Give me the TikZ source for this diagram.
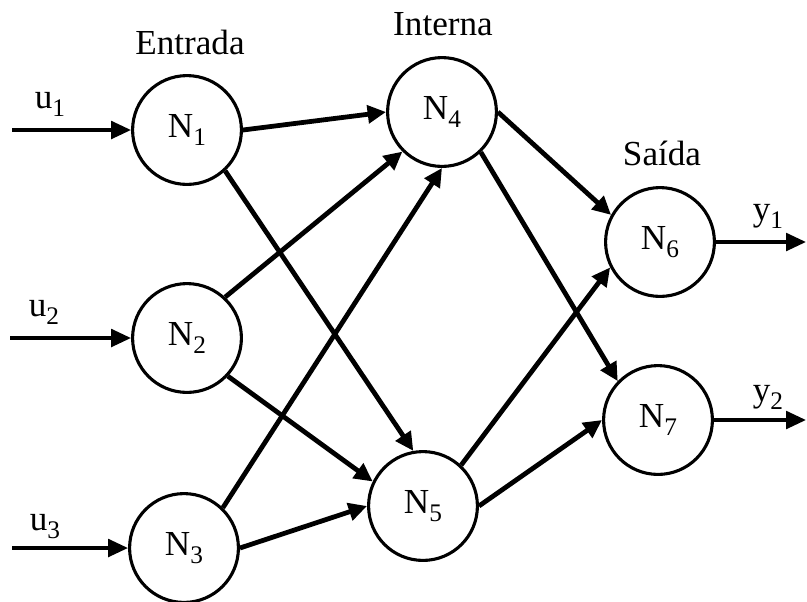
\documentclass[tikz,border=0pt]{standalone}
\usepackage{fontspec}
\setmainfont{Liberation Serif}
\usepackage{tikz}
\usetikzlibrary{arrows.meta}
\newcommand{\idx}[2]{#1\raisebox{-0.5ex}{\fontsize{18}{18}\selectfont #2}}
\tikzset{
  neuron/.style={circle,draw,line width=2.2pt,minimum size=2.72cm,inner sep=0pt,font=\fontsize{25}{28}\selectfont},
  lnk/.style={-{Triangle[length=4.6mm,width=4.4mm]},line width=3.4pt},
  io/.style={-{Triangle[length=5mm,width=4.4mm]},line width=2.6pt},
  ttl/.style={font=\fontsize{25}{28}\selectfont,inner sep=0pt}
}

\begin{document}
\begin{tikzpicture}[x=0.025cm,y=-0.025cm]
\useasboundingbox (0,0) rectangle (807,601);
% layers
\node[ttl] (tin) at (190,42) {Entrada};
\node[ttl] (tint) at (443,24) {Interna};
\node[ttl] (tout) at (662,153) {Saída};
\node[neuron] (n1) at (187,130) {\idx{N}{1}};
\node[neuron] (n2) at (187,338) {\idx{N}{2}};
\node[neuron] (n3) at (184,548) {\idx{N}{3}};
\node[neuron] (n4) at (442,112) {\idx{N}{4}};
\node[neuron] (n5) at (423,506) {\idx{N}{5}};
\node[neuron] (n6) at (660,242) {\idx{N}{6}};
\node[neuron] (n7) at (658,420) {\idx{N}{7}};
% inputs
\coordinate (u1s) at (12,130);
\coordinate (u2s) at (10,338);
\coordinate (u3s) at (12,548);
\draw[io] (u1s) -- (n1.west);
\draw[io] (u2s) -- (n2.west);
\draw[io] (u3s) -- (n3.west);
\node[ttl] (lu1) at (50,104) {\idx{u}{1}};
\node[ttl] (lu2) at (44,312) {\idx{u}{2}};
\node[ttl] (lu3) at (45,527) {\idx{u}{3}};
% links
\draw[lnk] (n1.east) -- (n4.west);
\draw[lnk] (n1.-47) -- (n5.100);
\draw[lnk] (n2.47) -- (n4.225);
\draw[lnk] (n2.-43) -- (n5.154);
\draw[lnk] (n3.46) -- (n4.south);
\draw[lnk] (n3.east) -- (n5.west);
\draw[lnk] (n4.east) -- (n6.151);
\draw[lnk] (n4.-46) -- (n7.136);
\draw[lnk] (n5.47) -- (n6.207);
\draw[lnk] (n5.east) -- (n7.west);
% outputs
\coordinate (y1e) at (806,242);
\coordinate (y2e) at (806,420);
\draw[io] (n6.east) -- (y1e);
\draw[io] (n7.east) -- (y2e);
\node[ttl] (ly1) at (768,216) {\idx{y}{1}};
\node[ttl] (ly2) at (768,397) {\idx{y}{2}};
\end{tikzpicture}
\end{document}
